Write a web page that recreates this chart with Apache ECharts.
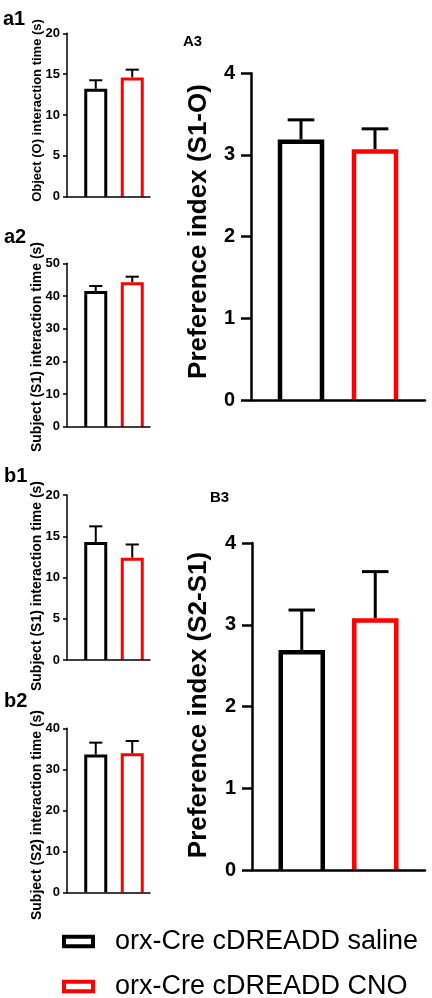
<!DOCTYPE html>
<html>
<head>
<meta charset="utf-8">
<script src="https://cdn.jsdelivr.net/npm/echarts@6/dist/echarts.min.js"></script>
<style>html,body{margin:0;padding:0;background:#fff}#c{width:432px;height:998px}</style>
</head>
<body>
<div id="c"></div>
<script>
// ---- data ----
const groups = ['orx-Cre cDREADD saline', 'orx-Cre cDREADD CNO'];
const a1Mean = [13.2, 14.6];  const a1Sem = [1.05, 0.95];
const a2Mean = [41.5, 44.2];  const a2Sem = [1.55, 1.7];
const b1Mean = [14.3, 12.4];  const b1Sem = [1.9, 1.6];
const b2Mean = [33.6, 33.9];  const b2Sem = [2.9, 3.0];
const A3Mean = [3.19, 3.07];  const A3Sem = [0.24, 0.25];
const B3Mean = [2.69, 3.08];  const B3Sem = [0.49, 0.57];
const a1Ticks = {max: 20, step: 5};
const a2Ticks = {max: 50, step: 10};
const b1Ticks = {max: 20, step: 5};
const b2Ticks = {max: 40, step: 10};
const A3Ticks = {max: 4, step: 1};
const B3Ticks = {max: 4, step: 1};
const titles = {
  a1: 'Object (O) interaction time (s)',
  a2: 'Subject (S1) interaction time (s)',
  b1: 'Subject (S1) interaction time (s)',
  b2: 'Subject (S2) interaction time (s)',
  A3: 'Preference index (S1-O)',
  B3: 'Preference index (S2-S1)'
};

// ---- layout / style ----
const FONT = '"Liberation Sans", Arial, Helvetica, sans-serif';
const COLORS = ['#000000', '#ff0000'];
const small = {axL: 67, axR: 150, barL: 77.5, barR: 150.5, axW: 1.5, bw: 3, barW: 23, errW: 2, tickLen: 4, tickFs: 13, tickMargin: 7};
const big = {axW: 2.5, bw: 4.5, barW: 46.5, errW: 3, tickLen: 10, tickFs: 20, tickMargin: 16};

const panels = [
  Object.assign({key: 'a1', mean: a1Mean, sem: a1Sem, ticks: a1Ticks, top: 33.3, bottom: 196.7}, small),
  Object.assign({key: 'a2', mean: a2Mean, sem: a2Sem, ticks: a2Ticks, top: 263.3, bottom: 426.7}, small),
  Object.assign({key: 'b1', mean: b1Mean, sem: b1Sem, ticks: b1Ticks, top: 495, bottom: 660}, small),
  Object.assign({key: 'b2', mean: b2Mean, sem: b2Sem, ticks: b2Ticks, top: 728.3, bottom: 892.3}, small),
  Object.assign({key: 'A3', mean: A3Mean, sem: A3Sem, ticks: A3Ticks, top: 73.3, bottom: 400, axL: 251, axR: 425, barL: 264, barR: 412}, big),
  Object.assign({key: 'B3', mean: B3Mean, sem: B3Sem, ticks: B3Ticks, top: 543, bottom: 870, axL: 252, axR: 425, barL: 265, barR: 412}, big)
];

const grid = [], xAxis = [], yAxis = [], series = [];
panels.forEach((p, i) => {
  const gA = 2 * i, gB = 2 * i + 1;
  const h = p.bottom - p.top;
  grid.push({left: p.axL, top: p.top, width: p.axR - p.axL, height: h, containLabel: false, outerBoundsMode: 'none'});
  grid.push({left: p.barL, top: p.top, width: p.barR - p.barL, height: h, containLabel: false, outerBoundsMode: 'none'});
  // visible axes
  xAxis.push({gridIndex: gA, type: 'value', min: 0, max: 1, z: 5,
    axisLine: {show: true, lineStyle: {color: '#000', width: p.axW}},
    axisTick: {show: false}, axisLabel: {show: false}, splitLine: {show: false}});
  yAxis.push({gridIndex: gA, type: 'value', min: 0, max: p.ticks.max, interval: p.ticks.step, z: 5,
    axisLine: {show: true, lineStyle: {color: '#000', width: p.axW}},
    axisTick: {show: true, length: p.tickLen, lineStyle: {color: '#000', width: p.axW}},
    axisLabel: {color: '#000', fontFamily: FONT, fontWeight: 'bold', fontSize: p.tickFs, margin: p.tickMargin},
    splitLine: {show: false}});
  // data axes (hidden)
  xAxis.push({gridIndex: gB, type: 'category', data: groups, show: false});
  yAxis.push({gridIndex: gB, type: 'value', min: 0, max: p.ticks.max, show: false});

  // error bars (upper SEM)
  const errData = p.mean.map((m, k) => [k, m, m + p.sem[k]]);
  series.push({
    type: 'custom', name: p.key + ' SEM', xAxisIndex: gB, yAxisIndex: gB, z: 1,
    encode: {x: 0, y: [1, 2]}, data: errData, silent: true,
    renderItem: (params, api) => {
      const x = api.value(0);
      const p0 = api.coord([x, api.value(1)]);
      const p1 = api.coord([x, api.value(2)]);
      const half = api.size([1, 0])[0] * 0.18;
      const st = {stroke: '#000', lineWidth: p.errW, fill: null};
      return {type: 'group', children: [
        {type: 'line', shape: {x1: p0[0], y1: p0[1], x2: p1[0], y2: p1[1]}, style: st},
        {type: 'line', shape: {x1: p1[0] - half, y1: p1[1], x2: p1[0] + half, y2: p1[1]}, style: st}
      ]};
    }
  });
  // open-bottom outlined bars, one series per group
  groups.forEach((g, k) => {
    series.push({
      type: 'custom', name: g, xAxisIndex: gB, yAxisIndex: gB, z: 2,
      encode: {x: 0, y: 1}, data: [[k, p.mean[k]]],
      itemStyle: {color: '#fff', borderColor: COLORS[k], borderWidth: p.bw},
      renderItem: (params, api) => {
        const top = api.coord([api.value(0), api.value(1)]);
        const base = api.coord([api.value(0), 0]);
        const lw = p.bw;
        const l = top[0] - p.barW / 2 + lw / 2, r = top[0] + p.barW / 2 - lw / 2;
        const ty = top[1] + lw / 2, by = base[1];
        return {type: 'group', children: [
          {type: 'rect', shape: {x: l, y: ty, width: r - l, height: by - ty}, style: {fill: '#fff'}},
          {type: 'polyline', shape: {points: [[l, by], [l, ty], [r, ty], [r, by]]},
           style: {stroke: COLORS[k], lineWidth: lw, fill: null, lineJoin: 'miter'}}
        ]};
      }
    });
  });
});

const graphic = [
  {type: 'text', left: 3, top: 9, style: {text: 'a1', font: 'bold 20px ' + FONT, fill: '#000'}},
  {type: 'text', left: 4, top: 227, style: {text: 'a2', font: 'bold 20px ' + FONT, fill: '#000'}},
  {type: 'text', left: 4, top: 466, style: {text: 'b1', font: 'bold 20px ' + FONT, fill: '#000'}},
  {type: 'text', left: 4, top: 691, style: {text: 'b2', font: 'bold 20px ' + FONT, fill: '#000'}},
  {type: 'text', left: 183, top: 34, style: {text: 'A3', font: 'bold 15px ' + FONT, fill: '#000'}},
  {type: 'text', left: 210, top: 490, style: {text: 'B3', font: 'bold 15px ' + FONT, fill: '#000'}}
];
const titlePos = {a1: [37, 110.5, 13], a2: [37, 347, 14], b1: [37, 586, 14], b2: [37, 815, 14], A3: [198.5, 231.5, 26], B3: [199, 705, 26]};
Object.keys(titlePos).forEach(k => {
  const [x, y, fs] = titlePos[k];
  graphic.push({type: 'text', x: x, y: y, rotation: Math.PI / 2,
    style: {text: titles[k], font: 'bold ' + fs + 'px ' + FONT, fill: '#000', align: 'center', verticalAlign: 'middle'}});
});

const legendTops = [928, 973];
const legend = groups.map((g, k) => ({
  data: [{name: g, itemStyle: {color: '#fff', borderColor: COLORS[k], borderWidth: 4}}],
  orient: 'horizontal', left: 62, top: legendTops[k], padding: 0,
  icon: 'rect', itemWidth: 29, itemHeight: 9.5,
  textStyle: {fontFamily: FONT, fontSize: 27, color: '#000', lineHeight: 26, padding: [0, 0, 0, 17]},
  selectedMode: false
}));

const chart = echarts.init(document.getElementById('c'), null, {renderer: 'canvas'});
chart.setOption({
  animation: false,
  backgroundColor: '#fff',
  grid, xAxis, yAxis, series, graphic, legend
});
</script>
</body>
</html>
